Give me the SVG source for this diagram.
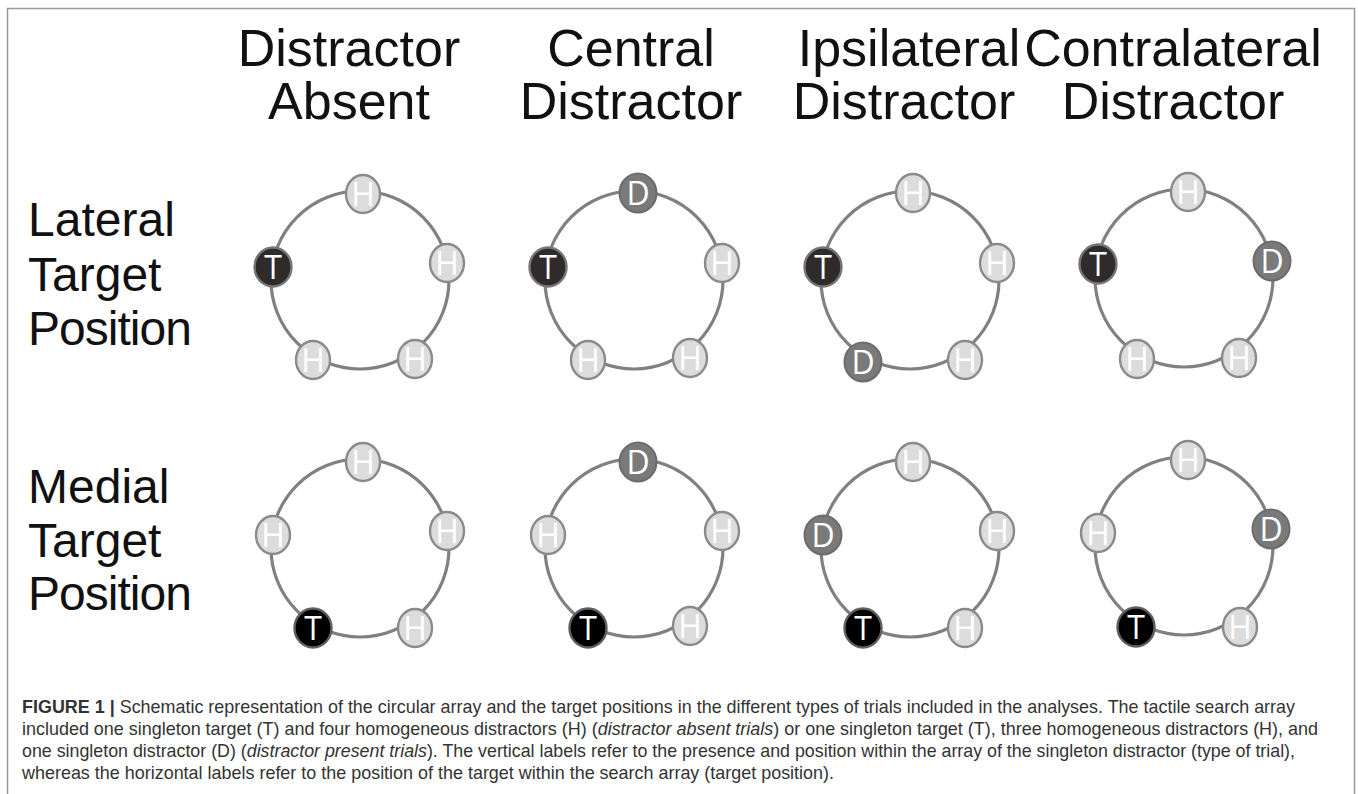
<svg xmlns="http://www.w3.org/2000/svg" width="1358" height="794" viewBox="0 0 1358 794">
<style>
.ring{fill:none;stroke:#808080;stroke-width:3.2}
.hn{fill:#dcdcdc;stroke:#8a8a8a;stroke-width:2.4}
.t1{fill:#2f2b2b;stroke:#767676;stroke-width:2.4}
.t2{fill:#000;stroke:#5e5e5e;stroke-width:2.4}
.dn{fill:#7a7a7a;stroke:#6c6c6c;stroke-width:2}
.lt{font-family:"Open Sans","Noto Sans",sans-serif;font-size:32px;fill:#fff;text-anchor:middle}
.hd{font-family:"Liberation Sans",Arial,sans-serif;font-size:52px;fill:#111;text-anchor:middle}
.lb{font-family:"Liberation Sans",Arial,sans-serif;font-size:48px;fill:#111}
.cap{font-family:"Liberation Sans",Arial,sans-serif;font-size:18.5px;fill:#333}
</style>
<rect x="7.5" y="8.5" width="1347" height="800" fill="#fff" stroke="#9a9a9a" stroke-width="1.5"/>

<g id="headers">
<text class="hd" x="349" y="66">Distractor</text><text class="hd" x="349" y="119">Absent</text>
<text class="hd" x="631" y="66">Central</text><text class="hd" x="631" y="119">Distractor</text>
<text class="hd" x="909" y="66">Ipsilateral</text><text class="hd" x="904" y="119">Distractor</text>
<text class="hd" x="1173" y="66">Contralateral</text><text class="hd" x="1173" y="119">Distractor</text>
</g>
<g id="row-labels">
<text class="lb" x="28" y="236" textLength="147">Lateral</text><text class="lb" x="28" y="291">Target</text><text class="lb" x="28" y="345" textLength="164">Position</text>
<text class="lb" x="28" y="503">Medial</text><text class="lb" x="28" y="557">Target</text><text class="lb" x="28" y="610" textLength="164">Position</text>
</g>

<g id="connectors">
<circle class="ring" cx="360" cy="280" r="89"/>
<circle class="ring" cx="634" cy="280" r="89"/>
<circle class="ring" cx="910" cy="280" r="89"/>
<circle class="ring" cx="1184" cy="278" r="89"/>
<circle class="ring" cx="360" cy="548" r="89"/>
<circle class="ring" cx="634" cy="548" r="89"/>
<circle class="ring" cx="910" cy="548" r="89"/>
<circle class="ring" cx="1184" cy="546" r="89"/>
</g>

<!-- Row 1, panel 1: distractor absent, lateral -->
<g transform="translate(360,280)">
<g id="r1p1-top"><ellipse class="hn" cx="3" cy="-86" rx="17" ry="19"/><text class="lt" x="3" y="-74.5">H</text></g>
<g id="r1p1-left"><ellipse class="t1" cx="-87" cy="-13" rx="18.5" ry="19.5"/><text class="lt" x="-87" y="-1.5">T</text></g>
<g id="r1p1-right"><ellipse class="hn" cx="87" cy="-17" rx="17" ry="19"/><text class="lt" x="87" y="-5.5">H</text></g>
<g id="r1p1-bl"><ellipse class="hn" cx="-47" cy="80" rx="17" ry="19"/><text class="lt" x="-47" y="91.5">H</text></g>
<g id="r1p1-br"><ellipse class="hn" cx="55" cy="79" rx="17" ry="19"/><text class="lt" x="55" y="90.5">H</text></g>
</g>
<!-- Row 1, panel 2: central -->
<g transform="translate(634,280)">
<g id="r1p2-top"><ellipse class="dn" cx="4" cy="-87" rx="18.5" ry="19.5"/><text class="lt" x="4" y="-75.5">D</text></g>
<g id="r1p2-left"><ellipse class="t1" cx="-86" cy="-13" rx="18.5" ry="19.5"/><text class="lt" x="-86" y="-1.5">T</text></g>
<g id="r1p2-right"><ellipse class="hn" cx="88" cy="-17" rx="17" ry="19"/><text class="lt" x="88" y="-5.5">H</text></g>
<g id="r1p2-bl"><ellipse class="hn" cx="-46" cy="80" rx="17" ry="19"/><text class="lt" x="-46" y="91.5">H</text></g>
<g id="r1p2-br"><ellipse class="hn" cx="56" cy="78" rx="17" ry="19"/><text class="lt" x="56" y="89.5">H</text></g>
</g>
<!-- Row 1, panel 3: ipsilateral -->
<g transform="translate(910,280)">
<g id="r1p3-top"><ellipse class="hn" cx="3" cy="-87" rx="17" ry="19"/><text class="lt" x="3" y="-75.5">H</text></g>
<g id="r1p3-left"><ellipse class="t1" cx="-87" cy="-13" rx="18.5" ry="19.5"/><text class="lt" x="-87" y="-1.5">T</text></g>
<g id="r1p3-right"><ellipse class="hn" cx="87" cy="-17" rx="17" ry="19"/><text class="lt" x="87" y="-5.5">H</text></g>
<g id="r1p3-bl"><ellipse class="dn" cx="-47" cy="82" rx="18.5" ry="19.5"/><text class="lt" x="-47" y="93.5">D</text></g>
<g id="r1p3-br"><ellipse class="hn" cx="55" cy="80" rx="17" ry="19"/><text class="lt" x="55" y="91.5">H</text></g>
</g>
<!-- Row 1, panel 4: contralateral -->
<g transform="translate(1184,278)">
<g id="r1p4-top"><ellipse class="hn" cx="4" cy="-86" rx="17" ry="19"/><text class="lt" x="4" y="-74.5">H</text></g>
<g id="r1p4-left"><ellipse class="t1" cx="-86" cy="-14" rx="18.5" ry="19.5"/><text class="lt" x="-86" y="-2.5">T</text></g>
<g id="r1p4-right"><ellipse class="dn" cx="88" cy="-17" rx="18.5" ry="19.5"/><text class="lt" x="88" y="-5.5">D</text></g>
<g id="r1p4-bl"><ellipse class="hn" cx="-47" cy="81" rx="17" ry="19"/><text class="lt" x="-47" y="92.5">H</text></g>
<g id="r1p4-br"><ellipse class="hn" cx="55" cy="80" rx="17" ry="19"/><text class="lt" x="55" y="91.5">H</text></g>
</g>

<!-- Row 2, panel 1 -->
<g transform="translate(360,548)">
<g id="r2p1-top"><ellipse class="hn" cx="3" cy="-86" rx="17" ry="19"/><text class="lt" x="3" y="-74.5">H</text></g>
<g id="r2p1-left"><ellipse class="hn" cx="-87" cy="-13" rx="17" ry="19"/><text class="lt" x="-87" y="-1.5">H</text></g>
<g id="r2p1-right"><ellipse class="hn" cx="87" cy="-17" rx="17" ry="19"/><text class="lt" x="87" y="-5.5">H</text></g>
<g id="r2p1-bl"><ellipse class="t2" cx="-47" cy="80" rx="18.5" ry="19.5"/><text class="lt" x="-47" y="91.5">T</text></g>
<g id="r2p1-br"><ellipse class="hn" cx="55" cy="80" rx="17" ry="19"/><text class="lt" x="55" y="91.5">H</text></g>
</g>
<!-- Row 2, panel 2 -->
<g transform="translate(634,548)">
<g id="r2p2-top"><ellipse class="dn" cx="4" cy="-86" rx="18.5" ry="19.5"/><text class="lt" x="4" y="-74.5">D</text></g>
<g id="r2p2-left"><ellipse class="hn" cx="-86" cy="-13" rx="17" ry="19"/><text class="lt" x="-86" y="-1.5">H</text></g>
<g id="r2p2-right"><ellipse class="hn" cx="88" cy="-17" rx="17" ry="19"/><text class="lt" x="88" y="-5.5">H</text></g>
<g id="r2p2-bl"><ellipse class="t2" cx="-46" cy="80" rx="18.5" ry="19.5"/><text class="lt" x="-46" y="91.5">T</text></g>
<g id="r2p2-br"><ellipse class="hn" cx="56" cy="78" rx="17" ry="19"/><text class="lt" x="56" y="89.5">H</text></g>
</g>
<!-- Row 2, panel 3 -->
<g transform="translate(910,548)">
<g id="r2p3-top"><ellipse class="hn" cx="3" cy="-86" rx="17" ry="19"/><text class="lt" x="3" y="-74.5">H</text></g>
<g id="r2p3-left"><ellipse class="dn" cx="-87" cy="-13" rx="18.5" ry="19.5"/><text class="lt" x="-87" y="-1.5">D</text></g>
<g id="r2p3-right"><ellipse class="hn" cx="87" cy="-17" rx="17" ry="19"/><text class="lt" x="87" y="-5.5">H</text></g>
<g id="r2p3-bl"><ellipse class="t2" cx="-47" cy="80" rx="18.5" ry="19.5"/><text class="lt" x="-47" y="91.5">T</text></g>
<g id="r2p3-br"><ellipse class="hn" cx="55" cy="80" rx="17" ry="19"/><text class="lt" x="55" y="91.5">H</text></g>
</g>
<!-- Row 2, panel 4 -->
<g transform="translate(1184,546)">
<g id="r2p4-top"><ellipse class="hn" cx="4" cy="-86" rx="17" ry="19"/><text class="lt" x="4" y="-74.5">H</text></g>
<g id="r2p4-left"><ellipse class="hn" cx="-86" cy="-13" rx="17" ry="19"/><text class="lt" x="-86" y="-1.5">H</text></g>
<g id="r2p4-right"><ellipse class="dn" cx="87" cy="-17" rx="18.5" ry="19.5"/><text class="lt" x="87" y="-5.5">D</text></g>
<g id="r2p4-bl"><ellipse class="t2" cx="-48" cy="81" rx="18.5" ry="19.5"/><text class="lt" x="-48" y="92.5">T</text></g>
<g id="r2p4-br"><ellipse class="hn" cx="56" cy="81" rx="17" ry="19"/><text class="lt" x="56" y="92.5">H</text></g>
</g>

<g id="caption">
<text class="cap" x="22" y="713" textLength="1273" lengthAdjust="spacingAndGlyphs"><tspan font-weight="bold">FIGURE 1 |</tspan> Schematic representation of the circular array and the target positions in the different types of trials included in the analyses. The tactile search array</text>
<text class="cap" x="22" y="735" textLength="1296" lengthAdjust="spacingAndGlyphs">included one singleton target (T) and four homogeneous distractors (H) (<tspan font-style="italic">distractor absent trials</tspan>) or one singleton target (T), three homogeneous distractors (H), and</text>
<text class="cap" x="22" y="757" textLength="1273" lengthAdjust="spacingAndGlyphs">one singleton distractor (D) (<tspan font-style="italic">distractor present trials</tspan>). The vertical labels refer to the presence and position within the array of the singleton distractor (type of trial),</text>
<text class="cap" x="22" y="779" textLength="812" lengthAdjust="spacingAndGlyphs">whereas the horizontal labels refer to the position of the target within the search array (target position).</text>
</g>
</svg>
